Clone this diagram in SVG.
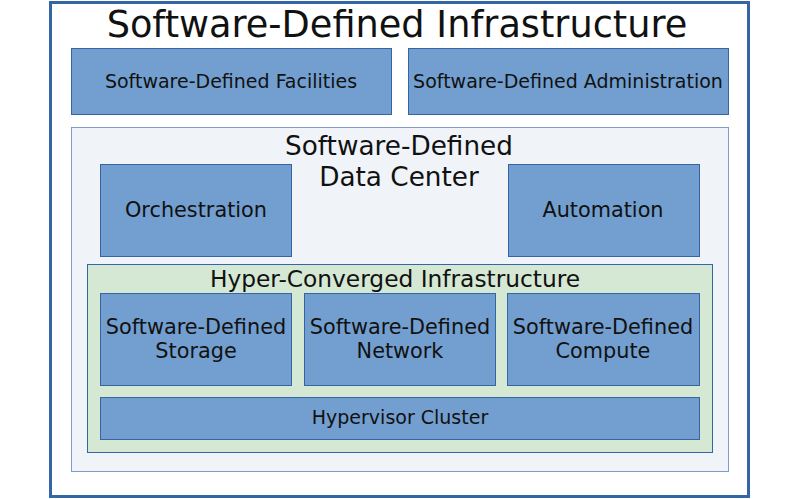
<svg xmlns="http://www.w3.org/2000/svg" width="800" height="499" viewBox="0 0 800 499">
<style>
text{font-family:"DejaVu Sans",sans-serif;fill:#111;text-anchor:middle}
.box{fill:#729fcf;stroke:#3465a4;stroke-width:1}
.b19{font-size:19px}
.b21{font-size:20.8px}
</style>
<rect width="800" height="499" fill="#fff"/>
<g id="infra">
<rect x="50.5" y="2.5" width="698" height="494" fill="#fff" stroke="#3465a4" stroke-width="3"/>
<text x="397" y="37" font-size="36.7">Software-Defined Infrastructure</text>
</g>
<g id="facilities">
<rect class="box" x="71.5" y="48.5" width="320" height="66"/>
<text class="b19" x="231" y="88">Software-Defined Facilities</text>
</g>
<g id="administration">
<rect class="box" x="408.5" y="48.5" width="320" height="66"/>
<text class="b19" x="568" y="88">Software-Defined Administration</text>
</g>
<g id="sddc">
<rect x="71.5" y="127.5" width="657" height="344" fill="#f0f4f9" stroke="#7f9dc8" stroke-width="1"/>
<text x="399" y="155" font-size="26.3">Software-Defined</text>
<text x="399" y="186" font-size="26.3">Data Center</text>
</g>
<g id="orchestration">
<rect class="box" x="100.5" y="164.5" width="191" height="92"/>
<text class="b21" x="196" y="217">Orchestration</text>
</g>
<g id="automation">
<rect class="box" x="508.5" y="164.5" width="191" height="92"/>
<text class="b21" x="603" y="217">Automation</text>
</g>
<g id="hci">
<rect x="87.5" y="264.5" width="625" height="188" fill="#d5e8d4" stroke="#3465a4" stroke-width="1"/>
<text x="395" y="287" font-size="23.3">Hyper-Converged Infrastructure</text>
</g>
<g id="storage">
<rect class="box" x="100.5" y="293.5" width="191" height="92"/>
<text class="b21" x="196" y="334">Software-Defined</text>
<text class="b21" x="196" y="358">Storage</text>
</g>
<g id="network">
<rect class="box" x="304.5" y="293.5" width="191" height="92"/>
<text class="b21" x="400" y="334">Software-Defined</text>
<text class="b21" x="400" y="358">Network</text>
</g>
<g id="compute">
<rect class="box" x="507.5" y="293.5" width="192" height="92"/>
<text class="b21" x="603" y="334">Software-Defined</text>
<text class="b21" x="603" y="358">Compute</text>
</g>
<g id="hypervisor">
<rect class="box" x="100.5" y="397.5" width="599" height="42"/>
<text class="b19" x="400" y="424">Hypervisor Cluster</text>
</g>
<g id="connectors"></g>
</svg>
